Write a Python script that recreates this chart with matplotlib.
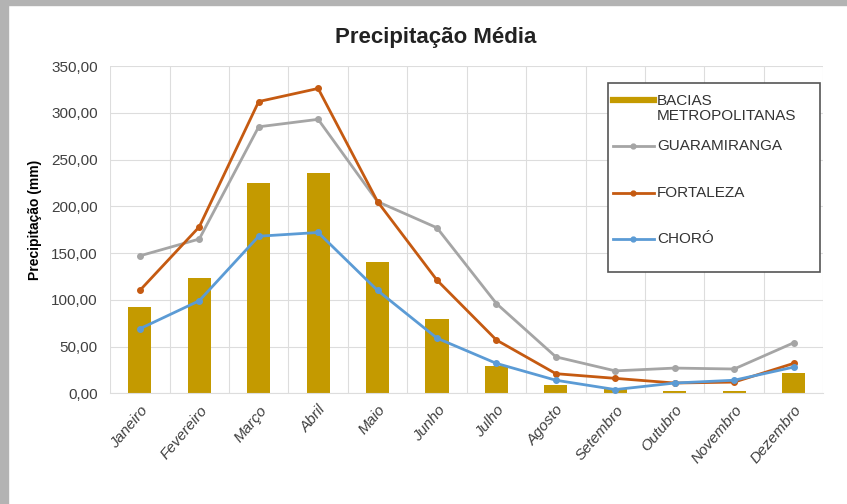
import matplotlib.pyplot as plt
import numpy as np
from matplotlib.ticker import FuncFormatter, MultipleLocator
from matplotlib.patches import Rectangle
from matplotlib.lines import Line2D

plt.rcParams['font.family'] = ['Liberation Sans', 'DejaVu Sans']

meses = ['Janeiro', 'Fevereiro', 'Março', 'Abril', 'Maio', 'Junho', 'Julho',
         'Agosto', 'Setembro', 'Outubro', 'Novembro', 'Dezembro']
bacias = [92, 123, 225, 236, 140, 80, 29, 9, 5, 2, 2, 22]
guaramiranga = [147, 165, 285, 293, 205, 177, 96, 39, 24, 27, 26, 54]
fortaleza = [110, 178, 312, 326, 205, 121, 57, 21, 16, 11, 12, 32]
choro = [69, 99, 168, 172, 110, 59, 32, 14, 4, 11, 14, 28]

series = [('BACIAS\nMETROPOLITANAS', '#C49A00'),
          ('GUARAMIRANGA', '#A5A5A5'),
          ('FORTALEZA', '#C55A11'),
          ('CHORÓ', '#5B9BD5')]

fig = plt.figure(figsize=(8.47, 5.04), dpi=100)
fig.patch.set_facecolor('white')
# moldura cinza
fig.patches.append(Rectangle((0, 0), 8 / 847, 1, transform=fig.transFigure,
                             color='#b3b3b3', zorder=0))
fig.patches.append(Rectangle((0, 1 - 5 / 504), 1, 5 / 504, transform=fig.transFigure,
                             color='#b3b3b3', zorder=0))

ax = fig.add_axes([0.130, 0.2196, 0.842, 0.6494])
x = np.arange(len(meses))

ax.bar(x, bacias, width=0.39, color=series[0][1], zorder=2)
ax.plot(x, guaramiranga, color=series[1][1], lw=2, marker='o', ms=4, zorder=3)
ax.plot(x, fortaleza, color=series[2][1], lw=2, marker='o', ms=4, zorder=4)
ax.plot(x, choro, color=series[3][1], lw=2, marker='o', ms=4, zorder=5)

ax.set_xlim(-0.5, 11.5)
ax.set_ylim(0, 350)
ax.yaxis.set_major_locator(MultipleLocator(50))
ax.yaxis.set_major_formatter(FuncFormatter(lambda v, p: f'{v:.2f}'.replace('.', ',')))
ax.set_xticks(x)
ax.set_xticklabels(meses, rotation=50, ha='right', va='top', rotation_mode='anchor',
                   fontsize=11, style='italic', color='#404040')
ax.set_xticks(np.arange(-0.5, 12, 1), minor=True)
ax.tick_params(axis='y', labelsize=11, labelcolor='#404040', length=0, pad=9)
ax.tick_params(axis='x', which='both', length=0, pad=7)
ax.grid(axis='y', which='major', color='#DDDDDD', lw=0.8, zorder=0)
ax.grid(axis='x', which='minor', color='#DDDDDD', lw=0.8, zorder=0)
for s in ['top', 'right', 'left']:
    ax.spines[s].set_visible(False)
ax.spines['bottom'].set_color('#DDDDDD')

ax.set_ylabel('Precipitação (mm)', fontsize=10, fontweight='bold')
ax.yaxis.set_label_coords(-0.095, 0.53)
fig.text(0.514, 0.925, 'Precipitação Média', ha='center', va='center',
         fontsize=16, fontweight='bold', color='#222222')

# legenda desenhada no estilo do Excel
ax.add_patch(Rectangle((0.698, 0.371), 0.298, 0.577, transform=ax.transAxes,
                       facecolor='white', edgecolor='#555555', lw=1.2,
                       zorder=6, clip_on=False))
text_y = [0.900, 0.755, 0.612, 0.471]
for i, ((lab, col), ty) in enumerate(zip(series, text_y)):
    if i == 0:
        ax.add_line(Line2D([0.705, 0.762], [ty - 0.003] * 2, color=col, lw=4.5,
                           transform=ax.transAxes, zorder=7, clip_on=False))
        ax.text(0.767, ty + 0.014, lab, transform=ax.transAxes, fontsize=11,
                va='top', ha='left', color='#333333', zorder=7, linespacing=1.05)
    else:
        ax.add_line(Line2D([0.705, 0.7335, 0.762], [ty] * 3, color=col, lw=2,
                           marker='o', ms=3.5, markevery=[1],
                           transform=ax.transAxes, zorder=7, clip_on=False))
        ax.text(0.767, ty, lab, transform=ax.transAxes, fontsize=11,
                va='center', ha='left', color='#333333', zorder=7)

fig.savefig('out.png', dpi=100)
